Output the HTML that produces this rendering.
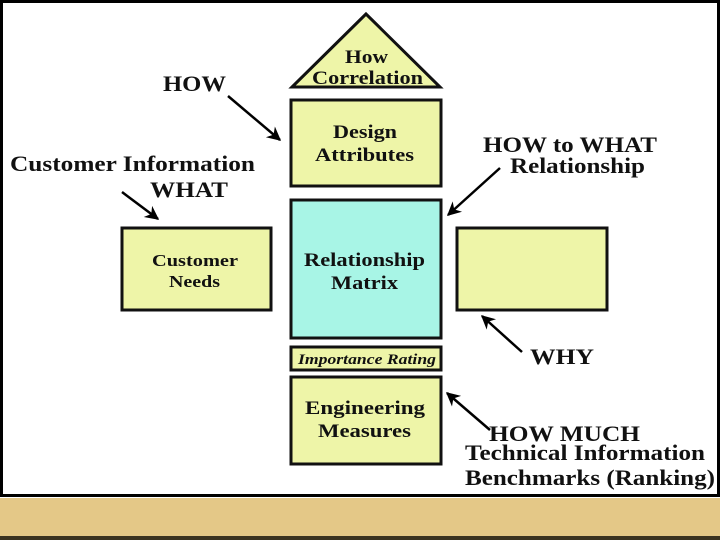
<!DOCTYPE html>
<html><head><style>
body{margin:0;width:720px;height:540px;overflow:hidden;background:#fff}
svg{display:block}
</style></head><body>
<svg width="720" height="540" xmlns="http://www.w3.org/2000/svg" font-family="Liberation Serif, serif" font-weight="bold">
<defs>
<marker id="ah" viewBox="0 0 10 10" markerWidth="16" markerHeight="14" refX="9" refY="5" orient="auto" markerUnits="userSpaceOnUse"><path d="M0,0 L10,5 L0,10 L3,5 Z" fill="#000"/></marker></defs>
<rect x="0" y="0" width="720" height="540" fill="#fff"/>
<rect x="0" y="498" width="720" height="40" fill="#e4c887"/>
<rect x="0" y="536" width="720" height="4" fill="#3a3320"/>
<rect x="1.5" y="1.5" width="717" height="494" fill="none" stroke="#000" stroke-width="3"/>
<g stroke="#111" stroke-width="3" fill="#eef5a8">
<polygon points="366,14 292,87 440,87"/>
<rect x="291" y="100" width="150" height="86"/>
<rect x="291" y="200" width="150" height="138" fill="#a8f5e6"/>
<rect x="291" y="347" width="150" height="23"/>
<rect x="291" y="377" width="150" height="87"/>
<rect x="122" y="228" width="149" height="82"/>
<rect x="457" y="228" width="150" height="82"/>
</g>
<g fill="#111" font-size="19" lengthAdjust="spacingAndGlyphs">
<text x="345" y="63" textLength="43" lengthAdjust="spacingAndGlyphs">How</text>
<text x="312" y="84" textLength="111" lengthAdjust="spacingAndGlyphs">Correlation</text>
<text x="333" y="138" textLength="64" lengthAdjust="spacingAndGlyphs">Design</text>
<text x="315" y="161" textLength="99" lengthAdjust="spacingAndGlyphs">Attributes</text>
<text x="304" y="266" textLength="121" lengthAdjust="spacingAndGlyphs">Relationship</text>
<text x="331" y="289" textLength="67" lengthAdjust="spacingAndGlyphs">Matrix</text>
<text x="298" y="364" font-size="15" font-style="italic" textLength="138" lengthAdjust="spacingAndGlyphs">Importance Rating</text>
<text x="305" y="414" textLength="120" lengthAdjust="spacingAndGlyphs">Engineering</text>
<text x="318" y="437" textLength="93" lengthAdjust="spacingAndGlyphs">Measures</text>
<text x="152" y="266" font-size="17" textLength="86" lengthAdjust="spacingAndGlyphs">Customer</text>
<text x="169" y="287" font-size="17" textLength="51" lengthAdjust="spacingAndGlyphs">Needs</text>
</g>
<g fill="#111" font-size="22">
<text x="163" y="91" textLength="63" lengthAdjust="spacingAndGlyphs">HOW</text>
<text x="10" y="171" textLength="245" lengthAdjust="spacingAndGlyphs">Customer Information</text>
<text x="150" y="197" textLength="78" lengthAdjust="spacingAndGlyphs">WHAT</text>
<text x="483" y="152" textLength="174" lengthAdjust="spacingAndGlyphs">HOW to WHAT</text>
<text x="510" y="173" textLength="135" lengthAdjust="spacingAndGlyphs">Relationship</text>
<text x="530" y="364" textLength="64" lengthAdjust="spacingAndGlyphs">WHY</text>
<text x="489" y="441" textLength="151" lengthAdjust="spacingAndGlyphs">HOW MUCH</text>
<text x="465" y="460" textLength="240" lengthAdjust="spacingAndGlyphs">Technical Information</text>
<text x="465" y="485" textLength="250" lengthAdjust="spacingAndGlyphs">Benchmarks (Ranking)</text>
</g>
<g stroke="#000" stroke-width="2.5" fill="none" marker-end="url(#ah)">
<line x1="228" y1="96" x2="280" y2="140"/>
<line x1="122" y1="192" x2="158" y2="219"/>
<line x1="500" y1="168" x2="448" y2="215"/>
<line x1="522" y1="352" x2="482" y2="316"/>
<line x1="490" y1="430" x2="447" y2="393"/>
</g>
</svg>
</body></html>
